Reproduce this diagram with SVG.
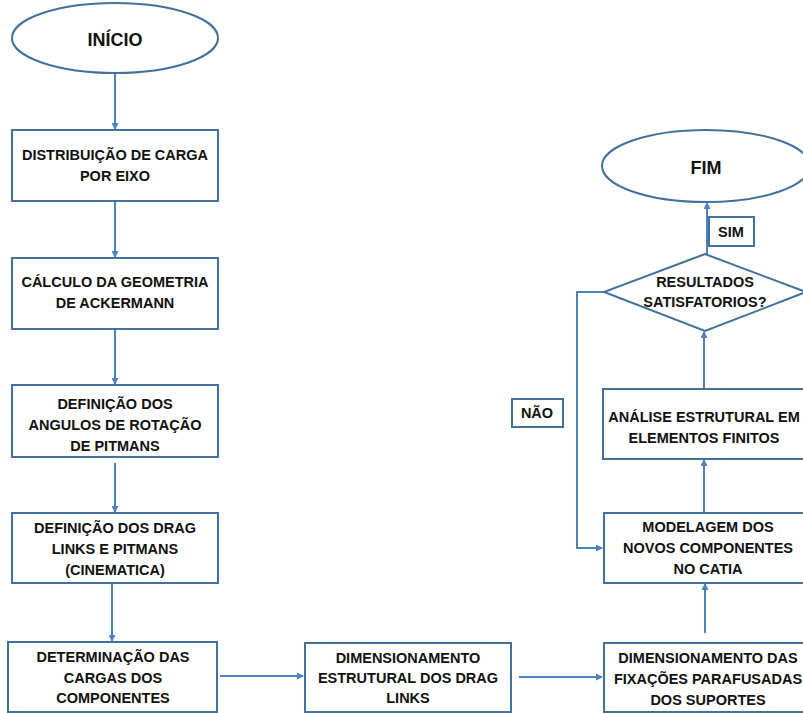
<svg xmlns="http://www.w3.org/2000/svg" width="803" height="713" viewBox="0 0 803 713">
<style>
.box{fill:#fff;stroke:#41719c;stroke-width:2}
.t{font-family:"Liberation Sans",Arial,sans-serif;font-weight:bold;font-size:14.5px;fill:#111;text-anchor:middle;dominant-baseline:central}
.big{font-size:18px}
.c{fill:none;stroke:#4f81bd;stroke-width:2}
</style>
<defs>
<marker id="ah" markerWidth="7" markerHeight="7" refX="6" refY="3.5" orient="auto" markerUnits="userSpaceOnUse">
<path d="M0,0 L7,3.5 L0,7 Z" fill="#4f81bd"/>
</marker>
</defs>
<rect width="803" height="713" fill="#fff"/>
<g id="connectors">
<line class="c" x1="115" y1="73" x2="115" y2="129" marker-end="url(#ah)"/>
<line class="c" x1="115" y1="201" x2="115" y2="257" marker-end="url(#ah)"/>
<line class="c" x1="115" y1="329" x2="115" y2="384" marker-end="url(#ah)"/>
<line class="c" x1="115" y1="463" x2="115" y2="512" marker-end="url(#ah)"/>
<line class="c" x1="112" y1="583" x2="112" y2="641" marker-end="url(#ah)"/>
<line class="c" x1="220" y1="676" x2="303" y2="676" marker-end="url(#ah)"/>
<line class="c" x1="519" y1="677" x2="602" y2="677" marker-end="url(#ah)"/>
<line class="c" x1="705" y1="633" x2="705" y2="584" marker-end="url(#ah)"/>
<line class="c" x1="704" y1="513" x2="704" y2="460" marker-end="url(#ah)"/>
<line class="c" x1="704" y1="389" x2="704" y2="332" marker-end="url(#ah)"/>
<line class="c" x1="707" y1="254" x2="707" y2="203" marker-end="url(#ah)"/>
<polyline class="c" points="604,292 577,292 577,548 602,548" marker-end="url(#ah)"/>
</g>
<g id="inicio">
<ellipse class="box" cx="115" cy="38" rx="103" ry="35"/>
<text class="t big" x="115" y="40">INÍCIO</text>
</g>
<g id="distribuicao">
<rect class="box" x="12" y="130" width="206" height="71"/>
<text class="t" x="115" y="155">DISTRIBUIÇÃO DE CARGA</text>
<text class="t" x="115" y="176">POR EIXO</text>
</g>
<g id="calculo">
<rect class="box" x="12" y="258" width="206" height="71"/>
<text class="t" x="115" y="282">CÁLCULO DA GEOMETRIA</text>
<text class="t" x="115" y="303">DE ACKERMANN</text>
</g>
<g id="angulos">
<rect class="box" x="12" y="385" width="206" height="72"/>
<text class="t" x="115" y="404">DEFINIÇÃO DOS</text>
<text class="t" x="115" y="425">ANGULOS DE ROTAÇÃO</text>
<text class="t" x="115" y="446">DE PITMANS</text>
</g>
<g id="draglinks">
<rect class="box" x="12" y="513" width="206" height="70"/>
<text class="t" x="115" y="528">DEFINIÇÃO DOS DRAG</text>
<text class="t" x="115" y="549">LINKS E PITMANS</text>
<text class="t" x="115" y="570">(CINEMATICA)</text>
</g>
<g id="determinacao">
<rect class="box" x="8" y="642" width="209" height="70"/>
<text class="t" x="113" y="657">DETERMINAÇÃO DAS</text>
<text class="t" x="113" y="678">CARGAS DOS</text>
<text class="t" x="113" y="698">COMPONENTES</text>
</g>
<g id="dimensionamento-estrutural">
<rect class="box" x="305" y="643" width="206" height="69"/>
<text class="t" x="408" y="658">DIMENSIONAMENTO</text>
<text class="t" x="408" y="678">ESTRUTURAL DOS DRAG</text>
<text class="t" x="408" y="698">LINKS</text>
</g>
<g id="dimensionamento-fixacoes">
<rect class="box" x="604" y="643" width="208" height="69"/>
<text class="t" x="708" y="658">DIMENSIONAMENTO DAS</text>
<text class="t" x="708" y="679">FIXAÇÕES PARAFUSADAS</text>
<text class="t" x="708" y="700">DOS SUPORTES</text>
</g>
<g id="modelagem">
<rect class="box" x="604" y="513" width="208" height="70"/>
<text class="t" x="708" y="527">MODELAGEM DOS</text>
<text class="t" x="708" y="548">NOVOS COMPONENTES</text>
<text class="t" x="708" y="569">NO CATIA</text>
</g>
<g id="analise">
<rect class="box" x="603" y="389" width="208" height="70"/>
<text class="t" x="704" y="417">ANÁLISE ESTRUTURAL EM</text>
<text class="t" x="704" y="438">ELEMENTOS FINITOS</text>
</g>
<g id="resultados">
<polygon class="box" points="705,254 806,292 705,331 604,292"/>
<text class="t" x="705" y="282">RESULTADOS</text>
<text class="t" x="705" y="302">SATISFATORIOS?</text>
</g>
<g id="fim">
<ellipse class="box" cx="706" cy="166" rx="104" ry="36"/>
<text class="t big" x="706" y="168">FIM</text>
</g>
<g id="sim">
<rect class="box" x="709" y="217" width="45" height="29"/>
<text class="t" x="731" y="232">SIM</text>
</g>
<g id="nao">
<rect class="box" x="512" y="399" width="51" height="28"/>
<text class="t" x="537" y="413">NÃO</text>
</g>
</svg>
